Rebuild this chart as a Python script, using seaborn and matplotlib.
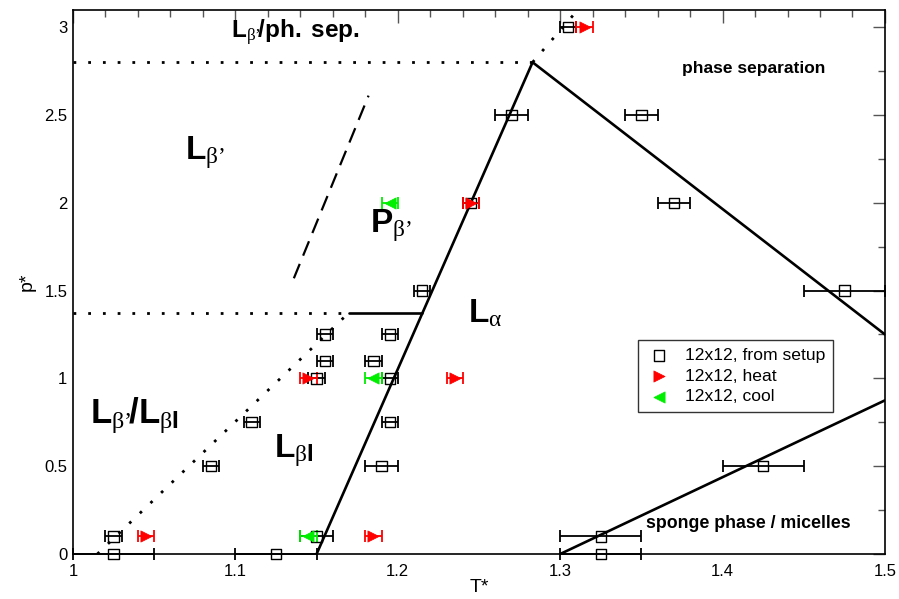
import matplotlib
matplotlib.use("Agg")
import matplotlib.pyplot as plt
import seaborn as sns
import numpy as np
import pandas as pd

# ---- data ----
setup_T = [1.305, 1.27, 1.35, 1.245, 1.37, 1.215, 1.475, 1.155, 1.195, 1.155, 1.185,
           1.15, 1.195, 1.11, 1.195, 1.085, 1.19, 1.425, 1.025, 1.15, 1.325,
           1.025, 1.125, 1.325]
setup_p = [3.0, 2.5, 2.5, 2.0, 2.0, 1.5, 1.5, 1.25, 1.25, 1.1, 1.1,
           1.0, 1.0, 0.75, 0.75, 0.5, 0.5, 0.5, 0.1, 0.1, 0.1,
           0.0, 0.0, 0.0]
setup_err = [0.005, 0.01, 0.01, 0.005, 0.01, 0.005, 0.025, 0.005, 0.005, 0.005, 0.005,
             0.005, 0.005, 0.005, 0.005, 0.005, 0.01, 0.025, 0.005, 0.01, 0.025,
             0.025, 0.025, 0.025]

heat_T = [1.315, 1.245, 1.145, 1.235, 1.045, 1.185]
heat_p = [3.0, 2.0, 1.0, 1.0, 0.1, 0.1]
heat_err = [0.005, 0.005, 0.005, 0.005, 0.005, 0.005]

cool_T = [1.195, 1.185, 1.145]
cool_p = [2.0, 1.0, 0.1]
cool_err = [0.005, 0.005, 0.005]

# phase boundaries
solid_main_T = [1.15, 1.283, 1.5]
solid_main_p = [0.0, 2.8, 1.25]
solid_step_T = [1.17, 1.215]
solid_step_p = [1.375, 1.375]
sponge_T = [1.30, 1.5]
sponge_p = [0.0, 0.875]
dot_top_T = [1.0, 1.283]
dot_top_p = [2.8, 2.8]
dot_mid_T = [1.0, 1.17]
dot_mid_p = [1.375, 1.375]
dot_diag_T = [1.015, 1.17]
dot_diag_p = [0.0, 1.375]
dot_peak_T = [1.283, 1.311]
dot_peak_p = [2.8, 3.1]
dash_T = [1.136, 1.182]
dash_p = [1.57, 2.61]

x_ticks = [1.0, 1.1, 1.2, 1.3, 1.4, 1.5]
x_ticklabels = ["1", "1.1", "1.2", "1.3", "1.4", "1.5"]
y_ticks = [0, 0.5, 1, 1.5, 2, 2.5, 3]
y_ticklabels = ["0", "0.5", "1", "1.5", "2", "2.5", "3"]

# ---- style ----
sns.set_theme(style="white")
plt.rcParams["font.family"] = ["Liberation Sans", "DejaVu Sans"]
plt.rcParams["mathtext.fontset"] = "custom"
plt.rcParams["mathtext.rm"] = "Liberation Serif"
plt.rcParams["mathtext.it"] = "Liberation Serif"
plt.rcParams["mathtext.bf"] = "Liberation Sans:bold"
for k in ["text.color", "axes.labelcolor", "xtick.color", "ytick.color"]:
    plt.rcParams[k] = "black"

fig = plt.figure(figsize=(8.99, 5.99), dpi=100)
ax = fig.add_axes([0.0812, 0.0751, 0.9032, 0.9089])

lw = 1.9
def line(T, p, **kw):
    df = pd.DataFrame({"T": T, "p": p})
    sns.lineplot(data=df, x="T", y="p", sort=False, estimator=None, ax=ax,
                 color="black", **kw)

line(solid_main_T, solid_main_p, lw=lw)
line(solid_step_T, solid_step_p, lw=lw)
line(sponge_T, sponge_p, lw=lw)
for T, p in [(dot_top_T, dot_top_p), (dot_mid_T, dot_mid_p),
             (dot_diag_T, dot_diag_p), (dot_peak_T, dot_peak_p)]:
    line(T, p, lw=2.0, linestyle=(0, (1, 4.3)))
line(dash_T, dash_p, lw=1.6, linestyle=(0, (7, 4)))

# error bars
ax.errorbar(setup_T, setup_p, xerr=setup_err, fmt="none", ecolor="black",
            elinewidth=1.3, capsize=4.5, capthick=1.3, clip_on=False, zorder=3)
ax.errorbar(heat_T, heat_p, xerr=heat_err, fmt="none", ecolor="#ff0000",
            elinewidth=1.3, capsize=4.5, capthick=1.3, clip_on=False, zorder=4)
ax.errorbar(cool_T, cool_p, xerr=cool_err, fmt="none", ecolor="#00ee00",
            elinewidth=1.3, capsize=4.5, capthick=1.3, clip_on=False, zorder=4)

df_s = pd.DataFrame({"T": setup_T, "p": setup_p})
df_h = pd.DataFrame({"T": heat_T, "p": heat_p})
df_c = pd.DataFrame({"T": cool_T, "p": cool_p})
sns.scatterplot(data=df_s, x="T", y="p", ax=ax, marker="s", s=55,
                facecolor="none", edgecolor="black", linewidth=1.0,
                label="12x12, from setup", clip_on=False, zorder=5)
sns.scatterplot(data=df_h, x="T", y="p", ax=ax, marker=">", s=65,
                color="#ff0000", edgecolor="#ff0000", linewidth=0.5,
                label="12x12, heat", clip_on=False, zorder=6)
sns.scatterplot(data=df_c, x="T", y="p", ax=ax, marker="<", s=65,
                color="#00ee00", edgecolor="#00ee00", linewidth=0.5,
                label="12x12, cool", clip_on=False, zorder=6)

ax.set_xlim(1.0, 1.5)
ax.set_ylim(0.0, 3.1)
ax.set_xticks(x_ticks)
ax.set_xticklabels(x_ticklabels)
ax.set_yticks(y_ticks)
ax.set_yticklabels(y_ticklabels)
ax.xaxis.set_minor_locator(matplotlib.ticker.MultipleLocator(0.02))
ax.yaxis.set_minor_locator(matplotlib.ticker.MultipleLocator(0.25))
ax.tick_params(which="both", direction="in", top=True, right=True,
               labelsize=12, labelcolor="black")
ax.tick_params(which="major", length=9, width=1.0, color="#555555")
ax.tick_params(which="minor", length=5, width=1.0, color="#555555")
ax.tick_params(axis="x", which="major", pad=7)
ax.tick_params(axis="y", which="major", pad=4)
for s in ax.spines.values():
    s.set_color("black")
    s.set_linewidth(1.2)

ax.set_xlabel("T*", fontsize=14, labelpad=0)
ax.set_ylabel("p*", fontsize=14, labelpad=6)

# phase labels
big = 24
ax.text(1.069, 2.25, r"$\mathbf{L}_{\beta’}$", fontsize=big)
ax.text(1.183, 1.83, r"$\mathbf{P}_{\beta’}$", fontsize=big)
ax.text(1.243, 1.32, r"$\mathbf{L}_{\alpha}$", fontsize=big)
ax.text(1.0105, 0.745, r"$\mathbf{L}_{\beta’}\!\mathbf{/L}_{\beta\mathbf{I}}$", fontsize=25)
ax.text(1.124, 0.55, r"$\mathbf{L}_{\beta\mathbf{I}}$", fontsize=big)
ax.text(1.097, 2.94, r"$\mathbf{L}_{\beta’}\!\mathbf{/ph.\ sep.}$", fontsize=17.5)
ax.text(1.375, 2.74, "phase separation", fontsize=12.5, fontweight="bold")
ax.text(1.353, 0.15, "sponge phase / micelles", fontsize=12.8, fontweight="bold")

leg = ax.legend(loc="upper left", bbox_to_anchor=(0.696, 0.393), borderaxespad=0,
                fontsize=12.6, frameon=True, fancybox=False, edgecolor="black",
                handletextpad=0.7, borderpad=0.45, labelspacing=0.3, handlelength=1.5)
leg.get_frame().set_linewidth(1.0)

fig.savefig("out.png", dpi=100)
